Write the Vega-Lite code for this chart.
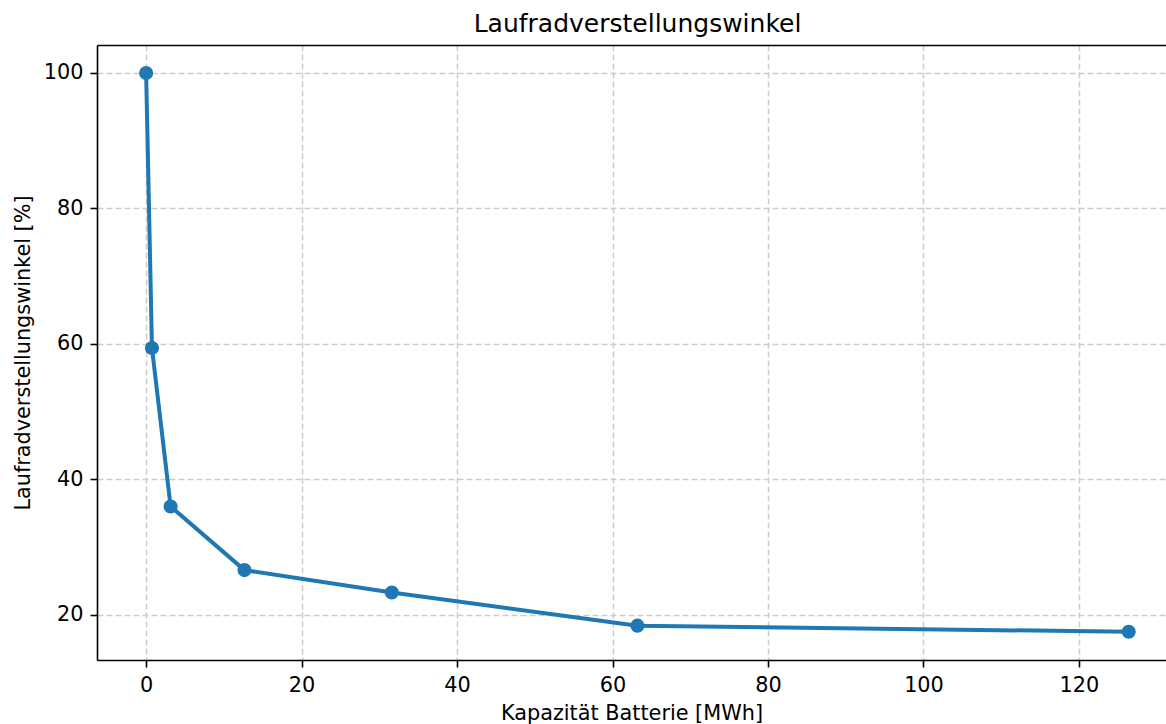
{
  "$schema": "https://vega.github.io/schema/vega-lite/v6.json",
  "width": 1069,
  "height": 615,
  "autosize": {"type": "none"},
  "padding": {"left": 97, "top": 45, "right": 0, "bottom": 64},
  "background": "white",
  "config": {
    "view": {"stroke": null},
    "font": "DejaVu Sans",
    "axis": {
      "labelFont": "DejaVu Sans",
      "labelFontSize": 20.8,
      "labelColor": "black",
      "titleFont": "DejaVu Sans",
      "titleFontSize": 20.8,
      "titleFontWeight": "normal",
      "titleColor": "black",
      "domainColor": "black",
      "domainWidth": 1.6,
      "tickColor": "black",
      "tickWidth": 1.6,
      "tickSize": 7,
      "gridColor": "#cccccc",
      "gridWidth": 1.5,
      "gridDash": [6, 3],
      "labelFlush": false,
      "labelOverlap": false
    }
  },
  "title": {
    "text": "Laufradverstellungswinkel",
    "font": "DejaVu Sans",
    "fontSize": 25,
    "fontWeight": "normal",
    "color": "black",
    "anchor": "middle",
    "frame": "group",
    "baseline": "alphabetic",
    "offset": 12,
    "dx": 6,
    "dy": 24
  },
  "data": {
    "values": [
      {"kapazitaet": 0, "winkel": 100},
      {"kapazitaet": 0.75, "winkel": 59.4},
      {"kapazitaet": 3.15, "winkel": 36.0},
      {"kapazitaet": 12.65, "winkel": 26.6},
      {"kapazitaet": 31.6, "winkel": 23.3},
      {"kapazitaet": 63.2, "winkel": 18.4},
      {"kapazitaet": 126.4, "winkel": 17.5}
    ]
  },
  "layer": [
    {
      "mark": {"type": "line", "color": "#1f77b4", "strokeWidth": 4, "strokeJoin": "round"},
      "encoding": {
        "x": {
          "field": "kapazitaet",
          "type": "quantitative",
          "scale": {"domain": [-6.32, 131.2], "nice": false, "zero": false},
          "axis": {
            "values": [0, 20, 40, 60, 80, 100, 120],
            "title": "Kapazität Batterie [MWh]",
            "labelPadding": 8,
            "titlePadding": 9,
            "grid": true
          }
        },
        "y": {
          "field": "winkel",
          "type": "quantitative",
          "scale": {"domain": [13.33, 104.13], "nice": false, "zero": false},
          "axis": {
            "values": [20, 40, 60, 80, 100],
            "title": "Laufradverstellungswinkel [%]",
            "labelPadding": 7,
            "titlePadding": 10,
            "grid": true
          }
        }
      }
    },
    {
      "mark": {"type": "point", "filled": true, "size": 200, "color": "#1f77b4", "opacity": 1},
      "encoding": {
        "x": {"field": "kapazitaet", "type": "quantitative", "axis": null},
        "y": {"field": "winkel", "type": "quantitative"}
      }
    },
    {
      "mark": {"type": "point", "opacity": 0},
      "encoding": {
        "x": {
          "field": "kapazitaet",
          "type": "quantitative",
          "axis": {"orient": "top", "labels": false, "ticks": false, "grid": false, "domain": true, "title": null}
        },
        "y": {"field": "winkel", "type": "quantitative"}
      }
    }
  ],
  "resolve": {"axis": {"x": "independent"}}
}
